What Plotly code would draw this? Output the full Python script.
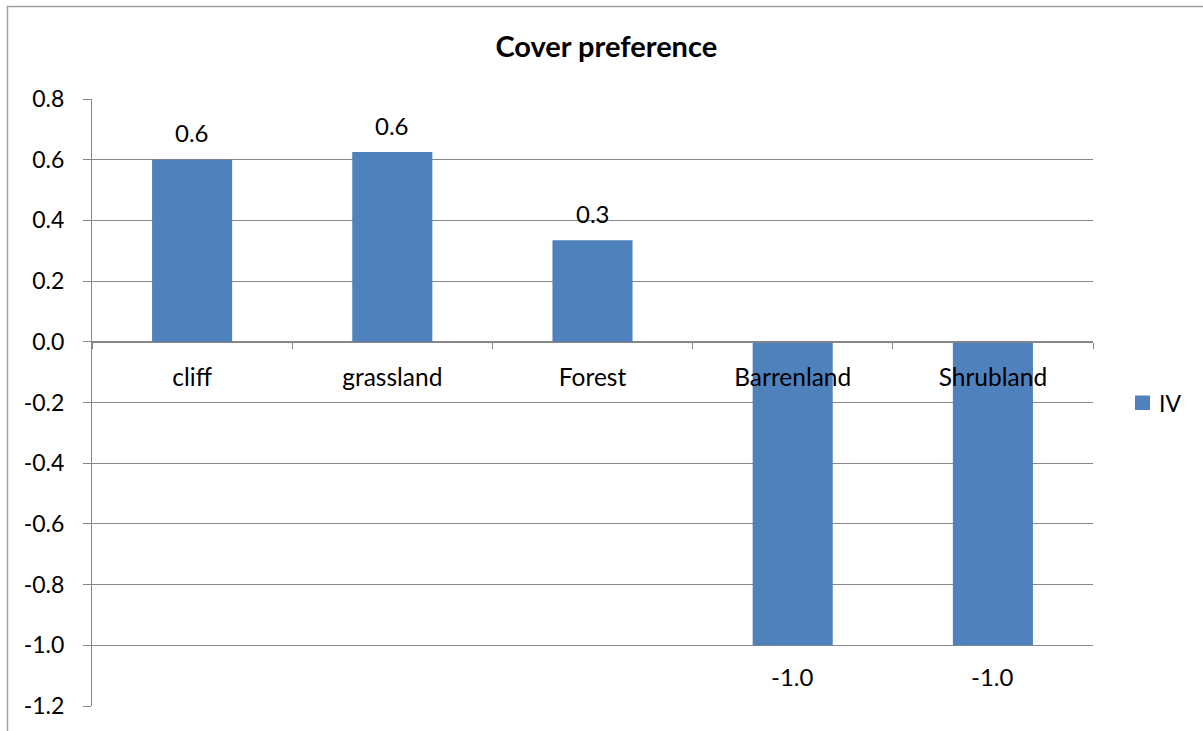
import plotly.graph_objects as go

categories = ["cliff", "grassland", "Forest", "Barrenland", "Shrubland"]
values = [0.60, 0.625, 0.335, -1.0, -1.0]
series_name = "IV"
y_ticks = [0.8, 0.6, 0.4, 0.2, 0.0, -0.2, -0.4, -0.6, -0.8, -1.0, -1.2]

FONT = "Lato, Carlito, Calibri, sans-serif"
GRID = "#868686"
BAR = "#4F81BD"
FS = 23

fig = go.Figure()
fig.add_trace(go.Bar(
    x=categories, y=values, name=series_name,
    marker=dict(color=BAR, line=dict(width=0)),
    width=0.4, showlegend=False,
))

annotations = []
for c, v in zip(categories, values):
    annotations.append(dict(
        x=c, y=v, xref="x", yref="y", text=f"{v:.1f}", showarrow=False,
        yanchor="middle", yshift=27 if v >= 0 else -31,
        font=dict(family=FONT, size=24, color="#000000"),
    ))

# legend (drawn manually to match the original spacing)
PX0, PW, PT, PH = 92, 1001, 99, 607
def px_x(p):
    return (p - PX0) / PW
def px_y(p):
    return (PT + PH - p) / PH

annotations.append(dict(
    x=px_x(1157), y=px_y(403), xref="paper", yref="paper", text=series_name,
    showarrow=False, xanchor="left", yanchor="middle",
    font=dict(family=FONT, size=FS, color="#000000"),
))

ymin, ymax = -1.2, 0.8
zero_pos = (0 - ymin) / (ymax - ymin)

fig.update_layout(
    width=1203, height=731,
    margin=dict(l=92, r=110, t=99, b=25),
    paper_bgcolor="white", plot_bgcolor="white",
    title=dict(text="<b>Cover preference</b>", x=0.504, xanchor="center",
               y=(731 - 47) / 731, yanchor="middle",
               font=dict(family=FONT, size=29, color="#000000")),
    font=dict(family=FONT, size=FS, color="#000000"),
    bargap=0.6,
    showlegend=False,
    xaxis=dict(
        anchor="free", position=zero_pos, range=[-0.5, 4.5],
        showline=True, linecolor=GRID, linewidth=1,
        ticks="outside", ticklen=6, tickcolor=GRID, tickson="boundaries",
        ticklabelstandoff=14, showgrid=False, zeroline=False,
        tickfont=dict(family=FONT, size=24.5, color="#000000"),
    ),
    yaxis=dict(
        range=[ymin, ymax], tickvals=y_ticks,
        ticktext=[f"{t:.1f}" for t in y_ticks],
        showgrid=True, gridcolor=GRID, gridwidth=1,
        zeroline=True, zerolinecolor=GRID, zerolinewidth=1,
        showline=True, linecolor=GRID, linewidth=1,
        ticks="outside", ticklen=8, tickcolor=GRID,
        ticklabelstandoff=14,
        tickfont=dict(family=FONT, size=FS, color="#000000"),
    ),
    annotations=annotations,
    shapes=[
        dict(type="rect", xref="paper", yref="paper",
             x0=px_x(7.5), x1=1.3, y0=-0.2, y1=px_y(6.5),
             line=dict(color="#A0A0A0", width=1.5), layer="below"),
        dict(type="rect", xref="paper", yref="paper",
             x0=px_x(1135), x1=px_x(1150), y0=px_y(410), y1=px_y(395.5),
             fillcolor=BAR, line=dict(width=0)),
    ],
)

fig.write_html("out.html", config={"displayModeBar": False},
               post_script="document.body.style.margin='0';document.body.style.overflow='hidden';")
